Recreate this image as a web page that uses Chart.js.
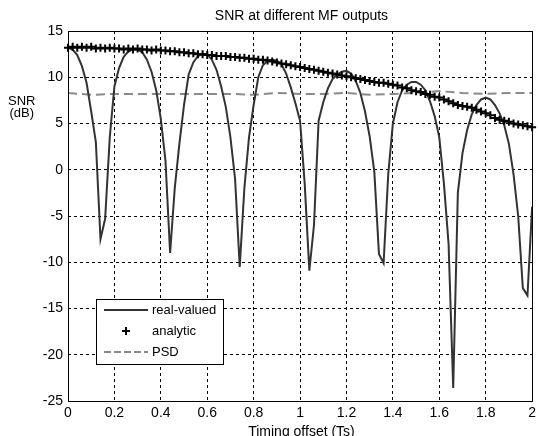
<!DOCTYPE html>
<html>
<head>
<meta charset="utf-8">
<script src="https://cdn.jsdelivr.net/npm/chart.js@4/dist/chart.umd.min.js"></script>
<style>
  body { margin: 0; background: #fff; }
  #wrap { position: relative; width: 540px; height: 436px; font-family: "Liberation Sans", Arial, sans-serif; color: #000; }
  #snr-chart { position: absolute; left: 0; top: 0; }
  .lbl { position: absolute; white-space: nowrap; line-height: 1; }
  #title { left: 0; width: 603px; top: 8px; font-size: 14px; text-align: center; }
  #ylab { left: 8px; top: 95px; font-size: 13px; line-height: 12px; text-align: center; }
  #xlab { left: 0; width: 603px; top: 424px; font-size: 14px; text-align: center; }
</style>
</head>
<body>
<div id="wrap">
  <canvas id="snr-chart" width="540" height="436"></canvas>
  <div class="lbl" id="title">SNR at different MF outputs</div>
  <div class="lbl" id="ylab">SNR<br>(dB)</div>
  <div class="lbl" id="xlab">Timing offset (Ts)</div>
</div>
<script>
// sample positions (timing offset, Ts)
var offsets = [0, 0.02, 0.04, 0.06, 0.08, 0.1, 0.12, 0.14, 0.16, 0.18,
    0.2, 0.22, 0.24, 0.26, 0.28, 0.3, 0.32, 0.34, 0.36, 0.38,
    0.4, 0.42, 0.44, 0.46, 0.48, 0.5, 0.52, 0.54, 0.56, 0.58,
    0.6, 0.62, 0.64, 0.66, 0.68, 0.7, 0.72, 0.74, 0.76, 0.78,
    0.8, 0.82, 0.84, 0.86, 0.88, 0.9, 0.92, 0.94, 0.96, 0.98,
    1, 1.02, 1.04, 1.06, 1.08, 1.1, 1.12, 1.14, 1.16, 1.18,
    1.2, 1.22, 1.24, 1.26, 1.28, 1.3, 1.32, 1.34, 1.36, 1.38,
    1.4, 1.42, 1.44, 1.46, 1.48, 1.5, 1.52, 1.54, 1.56, 1.58,
    1.6, 1.62, 1.64, 1.66, 1.68, 1.7, 1.72, 1.74, 1.76, 1.78,
    1.8, 1.82, 1.84, 1.86, 1.88, 1.9, 1.92, 1.94, 1.96, 1.98, 2];

var realValued = [13.2, 13.0, 12.4, 11.2, 9.4, 6.3, 3.0, -7.5, -5.3, 3.5,
    9.0, 11.0, 12.2, 12.8, 13.0, 13.0, 12.7, 11.9, 10.6, 8.6,
    5.5, 1.0, -9.0, -2.0, 2.8, 7.0, 10.3, 11.6, 12.3, 12.5,
    12.5, 11.9, 10.8, 9.0, 6.8, 3.5, -1.0, -10.5, -2.0, 3.5,
    7.0, 10.0, 11.3, 11.8, 11.9, 11.8, 11.4, 10.4, 8.9, 7.2,
    5.3, -1.5, -10.9, -6.0, 5.3, 7.3, 8.8, 9.8, 10.3, 10.6,
    10.7, 10.4, 9.6, 8.3, 6.3, 3.6, -0.2, -9.1, -10.1, -0.5,
    5.0, 7.3, 8.6, 9.2, 9.5, 9.5, 9.2, 8.6, 7.4, 5.8,
    3.5, -1.5, -8.0, -23.6, -2.5, 1.8, 4.3, 6.0, 7.0, 7.6,
    7.8, 7.6, 7.0, 6.1, 4.8, 2.8, -0.5, -5.0, -12.8, -13.6, -4.0];

var analytic = [13.2, 13.3, 13.2, 13.3, 13.2, 13.3, 13.1, 13.2, 13.1, 13.2,
    13.1, 13.1, 13.0, 13.1, 13.0, 13.1, 13.0, 13.0, 12.9, 13.0,
    12.9, 12.9, 12.8, 12.8, 12.7, 12.7, 12.6, 12.6, 12.5, 12.5,
    12.4, 12.4, 12.3, 12.3, 12.3, 12.2, 12.2, 12.1, 12.1, 12.0,
    12.0, 11.9, 11.9, 11.8, 11.7, 11.6, 11.5, 11.4, 11.3, 11.2,
    11.1, 11.0, 10.9, 10.8, 10.7, 10.6, 10.5, 10.4, 10.3, 10.2,
    10.1, 10.0, 9.9, 9.8, 9.7, 9.6, 9.5, 9.4, 9.4, 9.3,
    9.2, 9.1, 8.9, 8.8, 8.6, 8.5, 8.4, 8.2, 8.1, 7.9,
    7.8, 7.6, 7.4, 7.2, 7.0, 6.9, 6.8, 6.7, 6.5, 6.3,
    6.1, 5.9, 5.6, 5.4, 5.3, 5.2, 5.0, 4.9, 4.8, 4.7, 4.6];

var psdOffsets = [0, 0.1, 0.2, 0.3, 0.4, 0.5, 0.6, 0.7, 0.8, 0.9, 1,
    1.1, 1.2, 1.3, 1.4, 1.5, 1.6, 1.7, 1.8, 1.9, 2];
var psd = [8.3, 8.1, 8.2, 8.2, 8.2, 8.2, 8.2, 8.2, 8.1, 8.3, 8.2,
    8.2, 8.3, 8.1, 8.2, 8.3, 8.5, 8.3, 8.2, 8.3, 8.3];

var xTicks = [0, 0.2, 0.4, 0.6, 0.8, 1, 1.2, 1.4, 1.6, 1.8, 2];
var xTickLabels = ['0', '0.2', '0.4', '0.6', '0.8', '1', '1.2', '1.4', '1.6', '1.8', '2'];
var yTicks = [-25, -20, -15, -10, -5, 0, 5, 10, 15];
var yTickLabels = ['-25', '-20', '-15', '-10', '-5', '0', '5', '10', '15'];

var seriesNames = ['real-valued', 'analytic', 'PSD'];

function pairs(xs, ys) {
    return ys.map(function (v, i) { return { x: xs[i], y: v }; });
}

// box round the plot and legend inside it
var frameAndLegend = {
    id: 'frameAndLegend',
    afterDatasetsDraw: function (chart) {
        var ctx = chart.ctx, a = chart.chartArea;
        ctx.save();
        ctx.strokeStyle = '#000';
        ctx.lineWidth = 1;
        ctx.setLineDash([]);
        ctx.strokeRect(Math.round(a.left) + 0.5, Math.round(a.top) + 0.5,
            Math.round(a.right - a.left), Math.round(a.bottom - a.top));

        var bx = 96, by = 299, bw = 127, bh = 65;
        ctx.fillStyle = '#fff';
        ctx.fillRect(bx, by, bw, bh);
        ctx.strokeRect(bx + 0.5, by + 0.5, bw, bh);

        ctx.font = '13px "Liberation Sans", Arial, sans-serif';
        ctx.textBaseline = 'middle';
        ctx.fillStyle = '#000';

        // real-valued
        ctx.strokeStyle = '#333';
        ctx.lineWidth = 2;
        ctx.beginPath(); ctx.moveTo(104, 310); ctx.lineTo(148, 310); ctx.stroke();
        ctx.fillText(seriesNames[0], 152, 310);

        // analytic
        ctx.strokeStyle = '#000';
        ctx.beginPath();
        ctx.moveTo(122, 331); ctx.lineTo(130, 331);
        ctx.moveTo(126, 327); ctx.lineTo(126, 335);
        ctx.stroke();
        ctx.fillText(seriesNames[1], 152, 331);

        // PSD
        ctx.strokeStyle = '#888';
        ctx.setLineDash([7, 3]);
        ctx.beginPath(); ctx.moveTo(104, 352); ctx.lineTo(148, 352); ctx.stroke();
        ctx.setLineDash([]);
        ctx.fillText(seriesNames[2], 152, 352);
        ctx.restore();
    }
};

var tickFont = { family: '"Liberation Sans", Arial, sans-serif', size: 14 };

new Chart(document.getElementById('snr-chart'), {
    type: 'scatter',
    data: {
        datasets: [{
            label: seriesNames[1],
            data: pairs(offsets, analytic),
            showLine: false,
            pointStyle: 'cross',
            pointRadius: 4,
            pointBorderWidth: 2,
            borderColor: '#000',
            clip: 8
        }, {
            label: seriesNames[0],
            data: pairs(offsets, realValued),
            showLine: true,
            borderColor: '#333',
            borderWidth: 2,
            pointRadius: 0,
            tension: 0
        }, {
            label: seriesNames[2],
            data: pairs(psdOffsets, psd),
            showLine: true,
            borderColor: '#8a8a8a',
            borderWidth: 2,
            borderDash: [9, 5],
            pointRadius: 0,
            tension: 0
        }]
    },
    options: {
        responsive: false,
        animation: false,
        layout: { padding: { top: 31, right: 5, left: 0, bottom: 0 } },
        plugins: { legend: { display: false }, tooltip: { enabled: false }, title: { display: false } },
        scales: {
            x: {
                type: 'linear', min: 0, max: 2,
                afterBuildTicks: function (s) { s.ticks = xTicks.map(function (v) { return { value: v }; }); },
                afterFit: function (s) { s.height = 35; },
                ticks: {
                    color: '#000', font: tickFont, padding: 4, maxRotation: 0, autoSkip: false,
                    callback: function (v) { return xTickLabels[xTicks.indexOf(v)]; }
                },
                grid: { color: '#000', lineWidth: 1, drawTicks: false },
                border: { display: false, dash: [3, 3] }
            },
            y: {
                type: 'linear', min: -25, max: 15,
                afterBuildTicks: function (s) { s.ticks = yTicks.map(function (v) { return { value: v }; }); },
                afterFit: function (s) { s.width = 68; },
                ticks: {
                    color: '#000', font: tickFont, padding: 5, autoSkip: false,
                    callback: function (v) { return yTickLabels[yTicks.indexOf(v)]; }
                },
                grid: { color: '#000', lineWidth: 1, drawTicks: false },
                border: { display: false, dash: [3, 3] }
            }
        }
    },
    plugins: [frameAndLegend]
});
</script>
</body>
</html>
